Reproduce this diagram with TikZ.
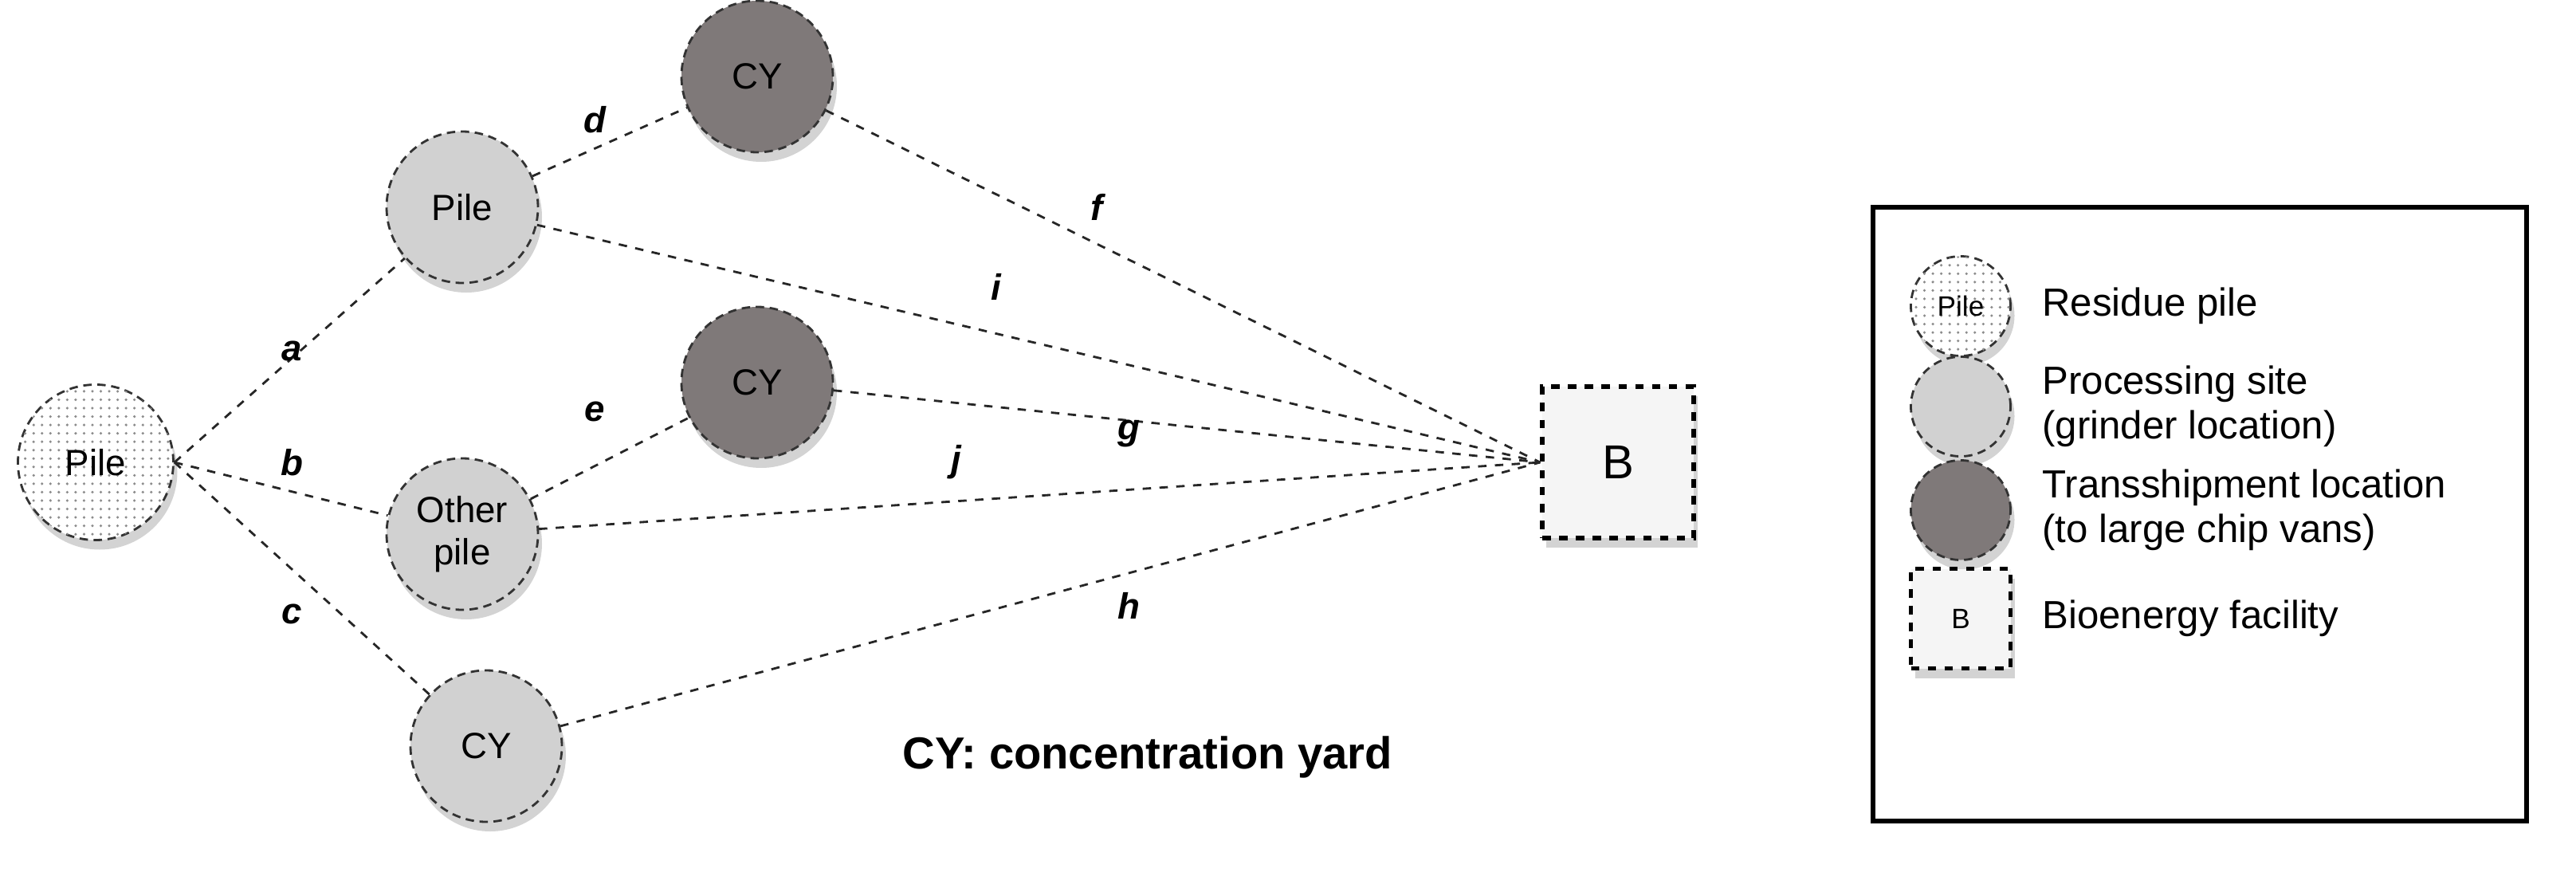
\documentclass[tikz,border=0pt]{standalone}
\usepackage{fontspec}
\setmainfont{Liberation Sans}
\usetikzlibrary{shadows,patterns,shapes.geometric}
\begin{document}
\begin{tikzpicture}

%sites
\tikzstyle{site} = [draw=black!80, circle, densely dashed, thick, inner sep=0pt, align=center, font=\fontsize{13}{15}\selectfont, drop shadow={opacity=0.35, shadow xshift=0.05, shadow yshift=-0.12}]
\tikzstyle{residue} = [site, fill=white, postaction={pattern=dots, pattern color=black!45}]
\tikzstyle{grinder} = [site, fill=black!18]
\tikzstyle{transship} = [site, fill=black!55!red!5!gray]
\tikzstyle{facility} = [draw=black, rectangle, dashed, line width=1.5pt, fill=black!4, drop shadow={opacity=0.35, shadow xshift=0.05, shadow yshift=-0.12}]
\tikzstyle{link} = [draw=black!85, dashed, thick]
\tikzstyle{lbl} = [font=\fontsize{13}{15}\selectfont\bfseries\itshape]
\tikzstyle{legtext} = [anchor=west, align=left, font=\fontsize{14}{16}\selectfont]
\useasboundingbox (0,0) rectangle (32.32,11.13);

\node (pile0) [residue, minimum size=1.95cm] at (1.2,5.33)  {Pile};
\node (pile1) [grinder, minimum size=1.9cm]  at (5.8,8.53)  {Pile};
\node (other) [grinder, minimum size=1.9cm]  at (5.8,4.43)  {Other\\pile};
\node (cy1)   [transship, minimum size=1.9cm] at (9.5,10.17) {CY};
\node (cy2)   [transship, minimum size=1.9cm] at (9.5,6.33)  {CY};
\node (cy3)   [grinder, minimum size=1.9cm]  at (6.1,1.77)  {CY};
\node (bio)   [facility, minimum size=1.9cm] at (20.3,5.33) {\fontsize{17}{19}\selectfont B};

\draw [link] (pile0.east) -- (pile1);
\draw [link] (pile0.east) -- (other);
\draw [link] (pile0.east) -- (cy3);
\draw [link] (pile1) -- (cy1);
\draw [link] (other) -- (cy2);
\draw [link] (cy1) -- (bio.west);
\draw [link] (pile1) -- (bio.west);
\draw [link] (cy2) -- (bio.west);
\draw [link] (other) -- (bio.west);
\draw [link] (cy3) -- (bio.west);

\node [lbl] at (3.66,6.73) {a};
\node [lbl] at (3.66,5.33) {b};
\node [lbl] at (3.66,3.43) {c};
\node [lbl] at (7.46,9.63) {d};
\node [lbl] at (7.46,5.97) {e};
\node [lbl] at (13.76,8.53) {f};
\node [lbl] at (12.5,7.53) {i};
\node [lbl] at (14.16,5.69) {g};
\node [lbl] at (12.0,5.33) {j};
\node [lbl] at (14.16,3.53) {h};
\node (caption) [font=\fontsize{16}{18}\selectfont\bfseries] at (14.4,1.63) {CY: concentration yard};

%legend
\node (legend) [draw=black, line width=1.5pt, minimum width=8.2cm, minimum height=7.7cm] at (27.6,4.68) {};
\node (leg1) [residue, minimum size=1.25cm, font=\fontsize{10}{12}\selectfont] at (24.6,7.29) {Pile};
\node (leg2) [grinder, minimum size=1.25cm] at (24.6,6.03) {};
\node (leg3) [transship, minimum size=1.25cm] at (24.6,4.73) {};
\node (leg4) [facility, minimum size=1.25cm] at (24.6,3.37) {B};
\node [legtext] at (25.5,7.29) {Residue pile};
\node [legtext] at (25.5,6.03) {Processing site\\(grinder location)};
\node [legtext] at (25.5,4.73) {Transshipment location\\(to large chip vans)};
\node [legtext] at (25.5,3.37) {Bioenergy facility};

\end{tikzpicture}
\end{document}
